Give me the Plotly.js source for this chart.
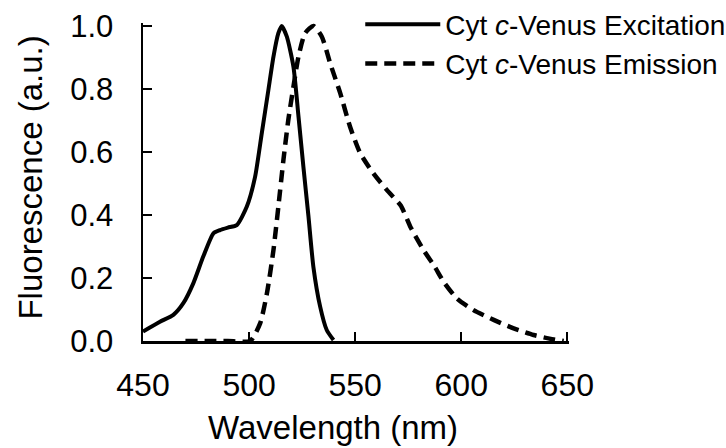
<!DOCTYPE html>
<html>
<head>
<meta charset="utf-8">
<script src="https://cdn.plot.ly/plotly-3.0.1.min.js"></script>
<style>html,body{margin:0;padding:0;background:#fff;}#chart{width:726px;height:448px;}</style>
</head>
<body>
<div id="chart"></div>
<script>
// Excitation spectrum (wavelength nm, normalized fluorescence)
const excitationWavelength = [450, 458, 464.3, 469, 473.7, 478.4, 483.2, 486.3, 490, 494.2, 498.9, 502.8, 506, 509.1, 511.5, 513.8, 515.4, 517.8, 520.9, 523.3, 525.6, 528, 530.3, 533.5, 536.6, 539.8];
const excitationValue = [0.03, 0.061, 0.083, 0.12, 0.183, 0.268, 0.342, 0.352, 0.36, 0.368, 0.426, 0.52, 0.66, 0.797, 0.903, 0.977, 1.0, 0.966, 0.871, 0.712, 0.553, 0.395, 0.236, 0.109, 0.035, 0.003];

// Emission spectrum
const emissionWavelength = [470, 480, 490, 500.5, 505.2, 508.4, 511.5, 513.8, 516.2, 518.5, 520.9, 523.3, 526.4, 530.3, 534.3, 538.2, 543, 547.6, 552.4, 558.6, 565, 571.5, 576, 582.2, 587.5, 591.7, 598, 605.8, 615.3, 624.7, 634.1, 643.6, 648.3];
const emissionValue = [0, 0, 0, 0, 0.056, 0.151, 0.289, 0.426, 0.575, 0.702, 0.807, 0.903, 0.977, 1.0, 0.966, 0.882, 0.786, 0.68, 0.596, 0.532, 0.479, 0.43, 0.363, 0.289, 0.236, 0.188, 0.135, 0.098, 0.067, 0.04, 0.019, 0.005, 0.0];

const seriesNames = ["Cyt <i>c</i>-Venus Excitation", "Cyt <i>c</i>-Venus Emission"];
const xTicks = [450, 500, 550, 600, 650];
const yTicks = [0, 0.2, 0.4, 0.6, 0.8, 1.0];
const yTickText = ["0.0", "0.2", "0.4", "0.6", "0.8", "1.0"];

const font = "Liberation Sans, Arial, sans-serif";

const traces = [
  {x: excitationWavelength, y: excitationValue, name: seriesNames[0], mode: "lines",
   line: {color: "#000", width: 4, shape: "spline", smoothing: 0.6}},
  {x: emissionWavelength, y: emissionValue, name: seriesNames[1], mode: "lines",
   line: {color: "#000", width: 4.5, dash: "12px,7px", shape: "spline", smoothing: 0.6}}
];

const layout = {
  width: 726, height: 448,
  margin: {l: 143, r: 157, t: 23, b: 107, pad: 0, autoexpand: false},
  paper_bgcolor: "#fff", plot_bgcolor: "#fff",
  font: {family: font, color: "#000", size: 31},
  showlegend: true,
  legend: {x: 0.51, y: 1.074, xanchor: "left", yanchor: "top", bgcolor: "rgba(0,0,0,0)",
           itemwidth: 75,
           font: {family: font, size: 28, color: "#000"}, tracegroupgap: 0},
  xaxis: {
    range: [450, 650.8], tickmode: "array", tickvals: xTicks, ticktext: xTicks.map(String),
    showgrid: false, zeroline: false, showline: true, linecolor: "#000", linewidth: 2.5,
    ticks: "inside", ticklen: 9, tickwidth: 2, tickcolor: "#000",
    ticklabelstandoff: 14,
    tickfont: {family: font, size: 32, color: "#000"},
    title: {text: "Wavelength (nm)\u00a0\u00a0\u00a0\u00a0\u00a0\u200b", font: {family: font, size: 33, color: "#000"}, standoff: 14}
  },
  yaxis: {
    range: [0, 1.0095], tickmode: "array", tickvals: yTicks, ticktext: yTickText,
    showgrid: false, zeroline: false, showline: true, linecolor: "#000", linewidth: 2.5,
    ticks: "inside", ticklen: 9, tickwidth: 2, tickcolor: "#000",
    ticklabelstandoff: 21,
    tickfont: {family: font, size: 31, color: "#000"},
    title: {text: "\u200b\u00a0Fluorescence (a.u.)", font: {family: font, size: 33, color: "#000"}, standoff: 18}
  }
};

Plotly.newPlot("chart", traces, layout, {displayModeBar: false, staticPlot: true});
</script>
</body>
</html>
